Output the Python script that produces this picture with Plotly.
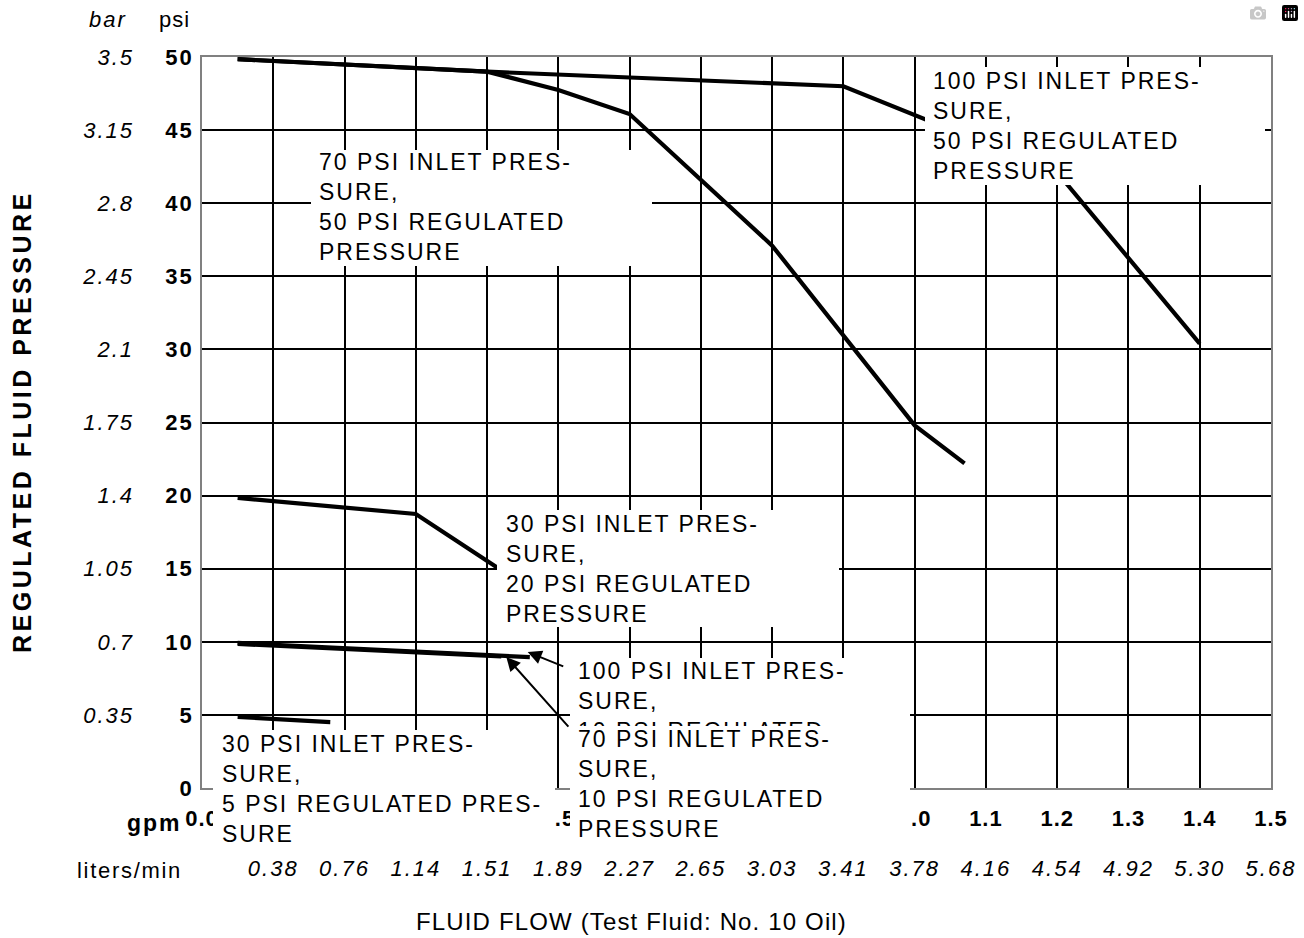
import plotly.graph_objects as go

FONT = "Liberation Sans, Arial, Helvetica, sans-serif"

# ---------------- data ----------------
gpm_ticks = [0.0, 0.1, 0.2, 0.3, 0.4, 0.5, 0.6, 0.7, 0.8, 0.9, 1.0, 1.1, 1.2, 1.3, 1.4, 1.5]
gpm_labels = ["0.0", "0.1", "0.2", "0.3", "0.4", "0.5", "0.6", "0.7", "0.8", "0.9",
              "1.0", "1.1", "1.2", "1.3", "1.4", "1.5"]
lpm_ticks = [0.1, 0.2, 0.3, 0.4, 0.5, 0.6, 0.7, 0.8, 0.9, 1.0, 1.1, 1.2, 1.3, 1.4, 1.5]
lpm_labels = ["0.38", "0.76", "1.14", "1.51", "1.89", "2.27", "2.65", "3.03", "3.41",
              "3.78", "4.16", "4.54", "4.92", "5.30", "5.68"]
psi_ticks = [0, 5, 10, 15, 20, 25, 30, 35, 40, 45, 50]
psi_labels = ["0", "5", "10", "15", "20", "25", "30", "35", "40", "45", "50"]
bar_ticks = [5, 10, 15, 20, 25, 30, 35, 40, 45, 50]
bar_labels = ["0.35", "0.7", "1.05", "1.4", "1.75", "2.1", "2.45", "2.8", "3.15", "3.5"]

flow_100_50 = [0.05, 0.40, 0.90, 1.20, 1.40]
pres_100_50 = [49.85, 49.0, 48.0, 42.1, 30.4]
flow_70_50 = [0.05, 0.40, 0.50, 0.60, 0.80, 1.00, 1.07]
pres_70_50 = [49.85, 49.0, 47.75, 46.1, 37.1, 24.8, 22.2]
flow_30_20 = [0.05, 0.30, 0.42]
pres_30_20 = [19.84, 18.74, 14.9]
flow_100_10 = [0.05, 0.46]
pres_100_10 = [9.92, 8.95]
flow_70_10 = [0.05, 0.42]
pres_70_10 = [9.85, 9.0]
flow_30_5 = [0.05, 0.18]
pres_30_5 = [4.86, 4.5]

label_70_50 = ["70 PSI INLET PRES-", "SURE,", "50 PSI REGULATED", "PRESSURE"]
label_100_50 = ["100 PSI INLET PRES-", "SURE,", "50 PSI REGULATED", "PRESSURE"]
label_30_20 = ["30 PSI INLET PRES-", "SURE,", "20 PSI REGULATED", "PRESSURE"]
label_100_10 = ["100 PSI INLET PRES-", "SURE,", "10 PSI REGULATED", "PRESSURE"]
label_70_10 = ["70 PSI INLET PRES-", "SURE,", "10 PSI REGULATED", "PRESSURE"]
label_30_5 = ["30 PSI INLET PRES-", "SURE,", "5 PSI REGULATED PRES-", "SURE"]

# arrow (head gpm, head psi, tail gpm, tail psi)
arrow_100_10 = (0.457, 9.30, 0.509, 8.28)
arrow_70_10 = (0.427, 8.96, 0.516, 4.10)

# ---------------- layout helpers ----------------
W, H = 1304, 938
PX0, PX1, PY0, PY1 = 202, 1271, 57, 788


def px(x):
    return (x - PX0) / (PX1 - PX0)


def py(y):
    return (PY1 - y) / (PY1 - PY0)


def sp(text, s):
    return f"<span style='letter-spacing:{s}px'>{text}</span>"


def block(lines, s=2):
    return "<br>".join(sp(l, s) for l in lines)


fig = go.Figure()
series = [
    (flow_100_50, pres_100_50, "x", "y"), (flow_70_50, pres_70_50, "x", "y"),
    (flow_30_20, pres_30_20, "x", "y"), (flow_100_10, pres_100_10, "x", "y"),
    (flow_70_10, pres_70_10, "x", "y"),
    # drawn on the secondary (liters/min, bar) axes, which share the same ranges
    (flow_30_5, pres_30_5, "x2", "y2"),
]
for xs, ys, xa, ya in series:
    fig.add_trace(go.Scatter(x=xs, y=ys, mode="lines", xaxis=xa, yaxis=ya,
                             line=dict(color="black", width=4.2),
                             showlegend=False, hoverinfo="skip"))

frame = "#808080"
fig.update_layout(
    width=W, height=H,
    margin=dict(l=PX0, r=W - PX1, t=PY0, b=H - PY1, pad=0, autoexpand=False),
    paper_bgcolor="white", plot_bgcolor="white", showlegend=False,
    font=dict(family=FONT, color="black"),
    xaxis=dict(range=[0, 1.5], tickmode="array", tickvals=gpm_ticks,
               ticktext=[sp(t, 1) for t in gpm_labels],
               tickfont=dict(size=22, weight="bold", family=FONT, color="black"),
               showgrid=True, gridcolor="black", gridwidth=2,
               showline=True, linecolor=frame, linewidth=1.5, mirror=True,
               ticks="", zeroline=False, ticklabelstandoff=10, automargin=False,
               fixedrange=True),
    xaxis2=dict(overlaying="x", anchor="y", side="bottom", range=[0, 1.5],
                tickmode="array", tickvals=lpm_ticks,
                ticktext=[sp(t, 2) for t in lpm_labels],
                tickfont=dict(size=22, style="italic", family=FONT, color="black"),
                showgrid=False, showline=False, zeroline=False, ticks="",
                ticklabelstandoff=65, automargin=False, fixedrange=True),
    yaxis=dict(range=[0, 50], tickmode="array", tickvals=psi_ticks,
               ticktext=[sp(t, 2) for t in psi_labels],
               tickfont=dict(size=22, weight="bold", family=FONT, color="black"),
               showgrid=True, gridcolor="black", gridwidth=2,
               showline=True, linecolor=frame, linewidth=1.5, mirror=True,
               ticks="", zeroline=False, ticklabelstandoff=2, automargin=False,
               fixedrange=True),
    yaxis2=dict(overlaying="y", anchor="x", side="left", range=[0, 50],
                tickmode="array", tickvals=bar_ticks,
                ticktext=[sp(t, 2) for t in bar_labels],
                tickfont=dict(size=22, style="italic", family=FONT, color="black"),
                showgrid=False, showline=False, zeroline=False, ticks="",
                ticklabelstandoff=67, automargin=False, fixedrange=True),
)

# white label boxes (pixel rectangles)
boxes = [(311, 150, 652, 266), (925, 67, 1265, 185), (497, 510, 839, 627),
         (570, 658, 910, 740), (570, 726, 910, 848), (213, 730, 555, 848)]
for x0, y0, x1, y1 in boxes:
    fig.add_shape(type="rect", xref="paper", yref="paper",
                  x0=px(x0), x1=px(x1), y0=py(y1), y1=py(y0),
                  fillcolor="white", line=dict(width=0), layer="above")

anns = []
# arrows
for hx, hy, tx, ty in (arrow_100_10, arrow_70_10):
    anns.append(dict(x=hx, y=hy, ax=tx, ay=ty, xref="x", yref="y", axref="x", ayref="y",
                     text="", showarrow=True, arrowhead=2, arrowsize=1.4,
                     arrowwidth=2, arrowcolor="black", standoff=0, startstandoff=0))

TF = dict(family=FONT, size=23, color="black")
text_boxes = [
    (label_70_50, 319, 149, None),
    (label_100_50, 933, 68, None),
    (label_30_20, 506, 511, None),
    (label_100_10, 578, 658, None),
    (label_70_10, 578, 726, (910 - 578, 848 - 726)),
    (label_30_5, 222, 731, None),
]
for lines, xl, yt, wh in text_boxes:
    a = dict(x=px(xl), y=py(yt), xref="paper", yref="paper", xanchor="left",
             yanchor="top", text=block(lines, 2), showarrow=False, align="left",
             font=TF, borderpad=0, borderwidth=0)
    if wh:
        a.update(width=wh[0], height=wh[1], valign="top", bgcolor="white")
    anns.append(a)

# axis captions
anns += [
    dict(x=px(87), y=py(5), xref="paper", yref="paper", xanchor="left", yanchor="top",
         text=sp("<i>bar</i>", 2), showarrow=False, font=dict(family=FONT, size=22)),
    dict(x=px(157), y=py(5), xref="paper", yref="paper", xanchor="left", yanchor="top",
         text=sp("psi", 1), showarrow=False, font=dict(family=FONT, size=22)),
    dict(x=px(22), y=py(422), xref="paper", yref="paper", xanchor="center",
         yanchor="middle", textangle=-90,
         text=sp("<b>REGULATED FLUID PRESSURE</b>", 3.5), showarrow=False,
         font=dict(family=FONT, size=25)),
    dict(x=px(184), y=py(808), xref="paper", yref="paper", xanchor="right",
         yanchor="top", text=sp("<b>gpm</b>", 2), showarrow=False,
         font=dict(family=FONT, size=23)),
    dict(x=px(184), y=py(856), xref="paper", yref="paper", xanchor="right",
         yanchor="top", text=sp("liters/min", 1.7), showarrow=False,
         font=dict(family=FONT, size=22)),
    dict(x=px(631), y=py(906), xref="paper", yref="paper", xanchor="center",
         yanchor="top", text=sp("FLUID FLOW (Test Fluid: No. 10 Oil)", 1.15),
         showarrow=False, font=dict(family=FONT, size=24)),
]
fig.update_layout(annotations=anns)

fig.write_html("out.html", post_script="document.body.style.margin='0px';")
